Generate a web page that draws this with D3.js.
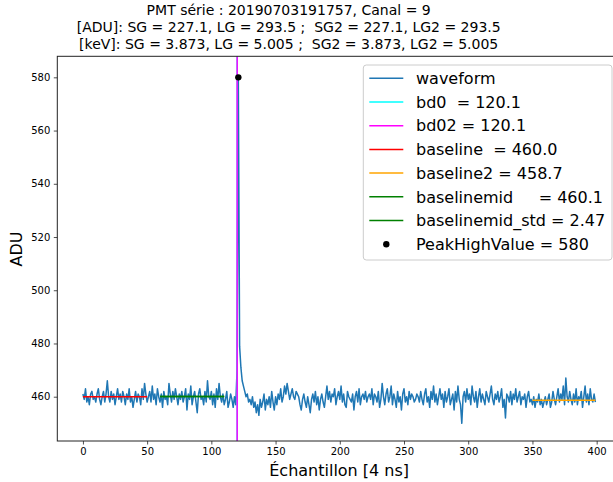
<!DOCTYPE html>
<html>
<head>
<meta charset="utf-8">
<script src="https://cdn.jsdelivr.net/npm/d3@7"></script>
<style>
  body { margin: 0; background: #fff; }
  text { font-family: "DejaVu Sans", sans-serif; fill: #000; }
</style>
</head>
<body>
<svg width="613" height="482"></svg>
<script>
  "use strict";

  // waveform samples (ADU), one per 4 ns sample
  const waveform = [
    461, 459, 463, 458, 460, 457, 461, 462, 459, 460, 458, 461, 463, 459, 457, 460, 462, 458, 461, 466,
    460, 458, 462, 459, 461, 457, 460, 463, 459, 461, 458, 462, 460, 457, 461, 459, 463, 458, 460, 456,
    459, 462, 458, 461, 460, 457, 463, 459, 465, 461, 458, 460, 462, 458, 464, 459, 461, 457, 463, 460,
    458, 461, 456, 462, 459, 460, 457, 465, 461, 458, 462, 459, 463, 460, 457, 461, 459, 462, 458, 460,
    463, 455, 461, 459, 464, 457, 460, 462, 458, 454, 461, 463, 459, 460, 457, 462, 458, 466, 460, 459,
    462, 457, 461, 456, 463, 459, 465, 460, 458, 461, 457, 459, 462, 456, 458, 461, 459, 456, 460, 457,
    470, 580, 479, 471, 466, 464, 462, 460, 461, 458, 459, 457, 460, 456, 458, 454, 457, 453, 459, 456,
    458, 461, 455, 459, 457, 460, 456, 462, 458, 455, 460, 457, 461, 459, 463, 458, 460, 464, 461, 465,
    462, 459, 461, 463, 460, 459, 462, 461, 460, 457, 455, 459, 461, 458, 456, 460, 457, 454, 459, 461,
    458, 462, 457, 460, 455, 459, 461, 458, 456, 460, 464, 459, 462, 458, 461, 460, 463, 457, 460, 462,
    459, 464, 458, 461, 457, 456, 462, 460, 459, 458, 461, 455, 460, 462, 458, 463, 457, 460, 461, 459,
    462, 458, 460, 461, 459, 463, 457, 461, 460, 458, 462, 456, 459, 465, 460, 457, 461, 463, 458, 460,
    464, 457, 461, 459, 456, 462, 458, 460, 455, 461, 463, 458, 460, 457, 462, 459, 461, 460, 458, 459,
    461, 460, 458, 462, 459, 457, 461, 463, 458, 460, 456, 462, 459, 464, 458, 461, 457, 460, 463, 459,
    461, 456, 462, 458, 460, 463, 457, 459, 461, 455, 462, 458, 464, 459, 457, 450, 460, 462, 458, 463,
    459, 461, 457, 464, 460, 458, 462, 456, 460, 463, 458, 461, 459, 457, 462, 460, 458, 461, 464, 459,
    457, 461, 459, 462, 458, 460, 463, 456, 459, 452, 461, 460, 458, 462, 457, 461, 459, 463, 458, 460,
    462, 457, 460, 459, 461, 456, 460, 462, 458, 459, 457, 460, 456, 459, 458, 461, 457, 459, 456, 458,
    460, 457, 459, 461, 456, 458, 462, 459, 457, 460, 463, 458, 461, 459, 464, 457, 467, 460, 458, 462,
    459, 457, 461, 458, 463, 457, 460, 459, 462, 456, 460, 464, 458, 461, 457, 463, 459, 458, 461, 458
  ];

  const bd0 = 120.1;
  const bd02 = 120.1;
  // [start sample, end sample, level]
  const baseline = [0, 50, 460.0];
  const baseline2 = [350, 399, 458.7];
  const baselinemid = [60, 110, 460.1];
  const peak = [121, 580];

  const xTicks = [0, 50, 100, 150, 200, 250, 300, 350, 400];
  const yTicks = [460, 480, 500, 520, 540, 560, 580];

  const titleLines = [
    "PMT série : 20190703191757, Canal = 9",
    "[ADU]: SG = 227.1, LG = 293.5 ;  SG2 = 227.1, LG2 = 293.5",
    "[keV]: SG = 3.873, LG = 5.005 ;  SG2 = 3.873, LG2 = 5.005"
  ];
  const legendLabels = [
    "waveform",
    "bd0  = 120.1",
    "bd02 = 120.1",
    "baseline  = 460.0",
    "baseline2 = 458.7",
    "baselinemid     = 460.1",
    "baselinemid_std = 2.47",
    "PeakHighValue = 580"
  ];
  const legendColors = ["#1f77b4", "cyan", "magenta", "red", "orange", "green", "green", "black"];

  (function () {
    const svg = d3.select("svg");
    const mLeft = 57.3, mRight = 621, mTop = 56.3, mBottom = 441;

    const x = d3.scaleLinear().domain([-19.95, 418.95]).range([mLeft, mRight]);
    const y = d3.scaleLinear().domain([443.36, 587.9]).range([mBottom, mTop]);

    svg.append("defs").append("clipPath").attr("id", "clip")
      .append("rect").attr("x", mLeft).attr("y", mTop)
      .attr("width", mRight - mLeft).attr("height", mBottom - mTop);

    const plot = svg.append("g").attr("clip-path", "url(#clip)");

    const line = d3.line().x((d, i) => x(i)).y(d => y(d));
    plot.append("path")
      .datum(waveform)
      .attr("d", line)
      .attr("fill", "none")
      .attr("stroke", "#1f77b4")
      .attr("stroke-width", 1.5)
      .attr("stroke-linejoin", "round");

    [[bd0, "cyan"], [bd02, "magenta"]].forEach(([v, c]) => {
      plot.append("line")
        .attr("x1", x(v)).attr("x2", x(v))
        .attr("y1", mTop).attr("y2", mBottom)
        .attr("stroke", c).attr("stroke-width", 1.5);
    });

    [[baseline, "red"], [baseline2, "orange"], [baselinemid, "green"], [baselinemid, "green"]]
      .forEach(([b, c]) => {
        plot.append("line")
          .attr("x1", x(b[0])).attr("x2", x(b[1]))
          .attr("y1", y(b[2])).attr("y2", y(b[2]))
          .attr("stroke", c).attr("stroke-width", 1.5);
      });

    plot.append("circle")
      .attr("cx", x(peak[0])).attr("cy", y(peak[1]))
      .attr("r", 3.2).attr("fill", "black");

    // axes
    const xAxis = svg.append("g")
      .attr("transform", `translate(0,${mBottom})`)
      .call(d3.axisBottom(x).tickValues(xTicks).tickSize(3.5).tickPadding(3.5));
    const yAxis = svg.append("g")
      .attr("transform", `translate(${mLeft},0)`)
      .call(d3.axisLeft(y).tickValues(yTicks).tickSize(3.5).tickPadding(3.5));
    [xAxis, yAxis].forEach(a => {
      a.select(".domain").remove();
      a.selectAll("text").style("font-family", "DejaVu Sans").style("font-size", "10px").attr("fill", "#222");
      a.selectAll("line").attr("stroke", "#222").attr("stroke-width", 0.8);
    });

    svg.append("rect")
      .attr("x", mLeft).attr("y", mTop)
      .attr("width", mRight - mLeft).attr("height", mBottom - mTop)
      .attr("fill", "none").attr("stroke", "#222").attr("stroke-width", 1);

    // title
    svg.append("g").selectAll("text")
      .data(titleLines).join("text")
      .attr("x", 288.7)
      .attr("y", (d, i) => 15 + i * 16.8)
      .attr("text-anchor", "middle")
      .style("font-size", "14px")
      .style("white-space", "pre")
      .text(d => d);

    svg.append("text")
      .attr("x", (mLeft + mRight) / 2).attr("y", 476)
      .attr("text-anchor", "middle")
      .style("font-size", "16px")
      .text("Échantillon [4 ns]");

    svg.append("text")
      .attr("transform", `translate(21.5,249) rotate(-90)`)
      .attr("text-anchor", "middle")
      .style("font-size", "16px")
      .text("ADU");

    // legend
    const lg = svg.append("g");
    lg.append("rect")
      .attr("x", 363.3).attr("y", 65)
      .attr("width", 620 - 363.3 - 8).attr("height", 195)
      .attr("rx", 3)
      .attr("fill", "white").attr("fill-opacity", 0.8)
      .attr("stroke", "#ccc").attr("stroke-width", 1);

    const rows = lg.selectAll(".row").data(legendLabels).join("g")
      .attr("class", "row")
      .attr("transform", (d, i) => `translate(0,${78.3 + i * 23.7})`);
    rows.each(function (d, i) {
      const r = d3.select(this);
      if (i === legendLabels.length - 1) {
        r.append("circle").attr("cx", 386.3).attr("cy", 0).attr("r", 3.2).attr("fill", legendColors[i]);
      } else {
        r.append("line").attr("x1", 369.3).attr("x2", 403.3)
          .attr("stroke", legendColors[i]).attr("stroke-width", 1.5);
      }
      r.append("text").attr("x", 416).attr("dy", "0.36em")
        .style("font-size", "16px").style("white-space", "pre")
        .text(d);
    });
  })();
</script>
</body>
</html>
